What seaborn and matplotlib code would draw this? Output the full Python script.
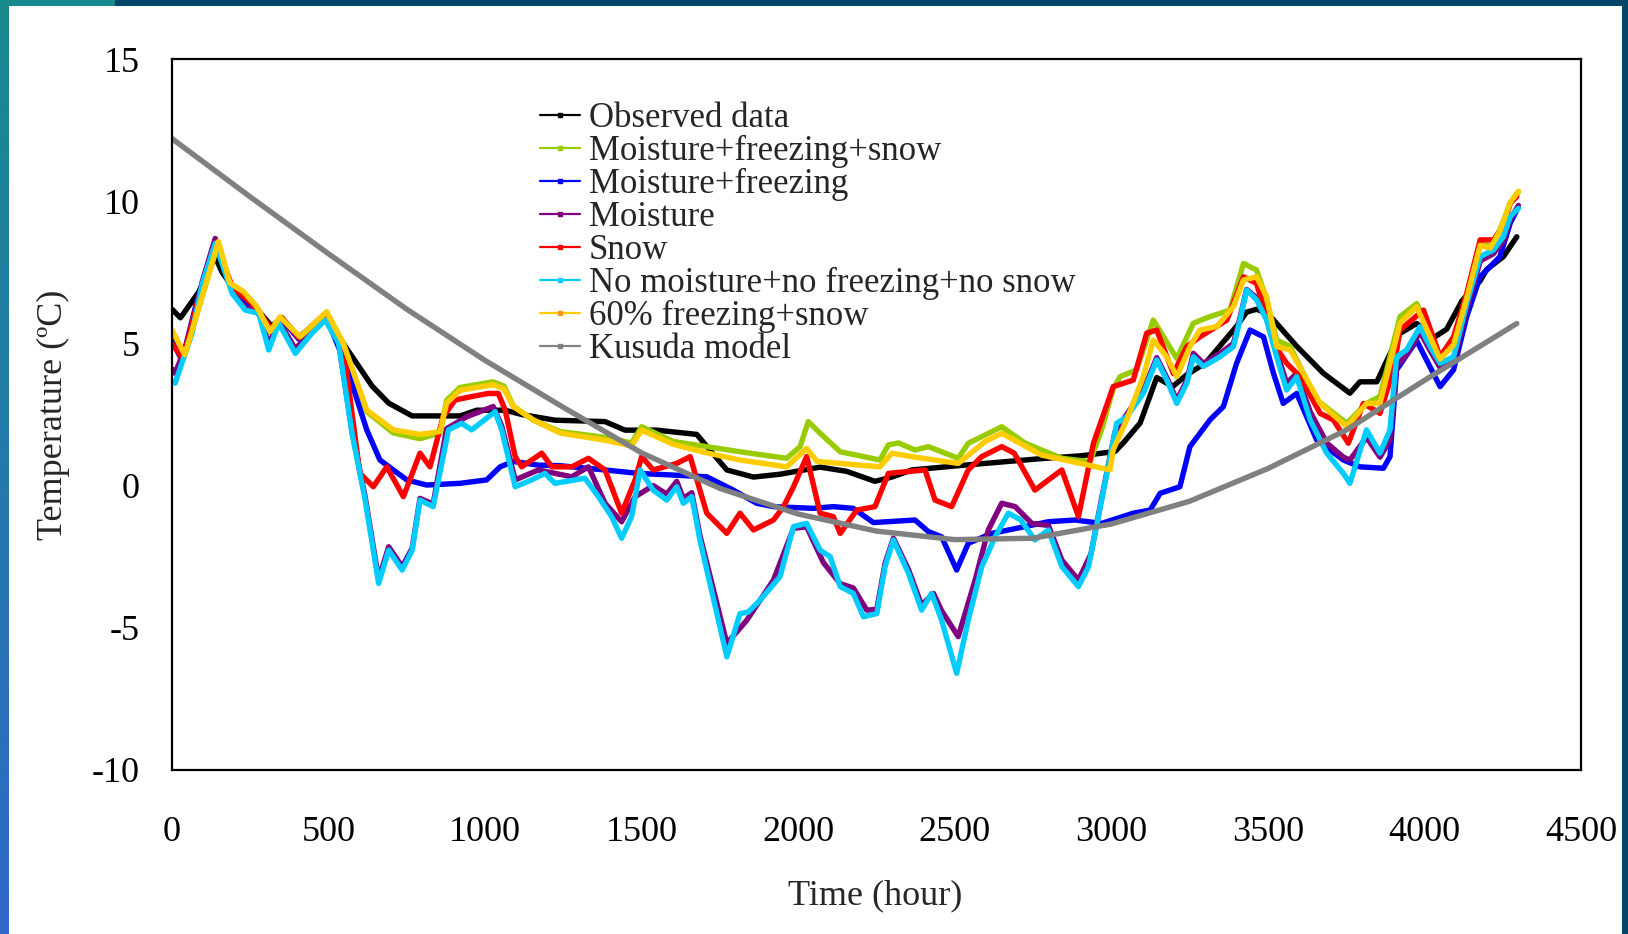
import numpy as np
import pandas as pd
import matplotlib
matplotlib.use("Agg")
import matplotlib.pyplot as plt
from matplotlib.patches import Rectangle
from matplotlib.lines import Line2D
import seaborn as sns

# ---- series (time in hours, temperature in degC) ----
t_obs = [0, 27, 85, 138, 160, 192, 255, 319, 351, 405, 490, 553, 639, 692, 767, 920, 973, 1064, 1117,
         1223, 1383, 1447, 1548, 1676, 1718, 1772, 1857, 1942, 2070, 2155, 2245, 2299, 2363, 2511, 2671,
         2778, 2905, 3012, 3038, 3092, 3145, 3177, 3198, 3241, 3300, 3400, 3432, 3464, 3500, 3592, 3677,
         3762, 3794, 3848, 3880, 3922, 3975, 4029, 4071, 4120, 4178, 4199, 4252, 4295]
v_obs = [6.2, 5.9, 6.8, 8.05, 7.5, 7.0, 6.4, 5.6, 5.9, 5.2, 6.0, 4.9, 3.5, 2.9, 2.45, 2.45, 2.65, 2.65, 2.5,
         2.3, 2.25, 1.95, 1.95, 1.8, 1.25, 0.55, 0.3, 0.4, 0.65, 0.5, 0.15, 0.3, 0.55, 0.7, 0.85,
         0.95, 1.05, 1.2, 1.5, 2.2, 3.8, 3.6, 3.5, 3.9, 4.3, 5.6, 6.1, 6.2, 6.05, 4.9, 3.95,
         3.25, 3.65, 3.65, 4.4, 5.35, 5.7, 5.2, 5.5, 6.5, 7.2, 7.6, 8.05, 8.75]

t_mfs = [0, 41, 148, 185, 228, 270, 313, 345, 409, 494, 547, 622, 707, 792, 856, 877, 920, 1026, 1060, 1090,
         1154, 1239, 1380, 1468, 1500, 1601, 1708, 1814, 1963, 2006, 2032, 2070, 2134, 2261, 2288, 2320,
         2373, 2416, 2511, 2543, 2597, 2650, 2725, 2842, 2932, 2970, 3006, 3028, 3081, 3134, 3209, 3262,
         3315, 3379, 3422, 3464, 3496, 3528, 3571, 3656, 3752, 3815, 3858, 3922, 3975, 4050, 4093, 4135,
         4178, 4210, 4241, 4274, 4300]
v_mfs = [5.4, 4.6, 8.55, 7.1, 6.8, 6.3, 5.4, 5.9, 5.2, 6.1, 5.0, 2.6, 1.85, 1.65, 1.85, 3.0, 3.45, 3.65, 3.5, 2.8,
         2.3, 1.9, 1.7, 1.5, 2.07, 1.55, 1.37, 1.19, 0.96, 1.37, 2.25, 1.84, 1.19, 0.9, 1.43, 1.5,
         1.25, 1.37, 0.96, 1.49, 1.78, 2.07, 1.49, 0.96, 0.84, 2.0, 3.4, 3.83, 4.07, 5.82, 4.47, 5.71,
         5.94, 6.17, 7.81, 7.58, 6.53, 5.12, 4.89, 3.01, 2.19, 2.89, 3.13, 5.94, 6.4, 4.53, 5.0, 6.64,
         8.52, 8.4, 8.99, 9.93, 10.33]

t_mf = [0, 32, 80, 140, 192, 255, 319, 351, 405, 490, 557, 622, 664, 750, 813, 920, 1005, 1048, 1090, 1170,
        1239, 1383, 1489, 1601, 1708, 1793, 1867, 1921, 2048, 2112, 2176, 2240, 2373, 2416, 2458, 2506,
        2543, 2618, 2725, 2799, 2884, 2969, 3070, 3124, 3156, 3219, 3251, 3315, 3358, 3400, 3443, 3486,
        3518, 3549, 3592, 3656, 3741, 3794, 3869, 3890, 3911, 3975, 4050, 4093, 4135, 4178, 4210, 4241,
        4274, 4295]
v_mf = [5.1, 4.4, 6.5, 8.5, 6.9, 6.3, 5.5, 5.85, 5.15, 6.0, 4.19, 1.96, 0.9, 0.2, 0.02, 0.08, 0.2, 0.66, 0.85, 0.72,
        0.7, 0.55, 0.43, 0.37, 0.31, -0.16, -0.62, -0.74, -0.8, -0.74, -0.8, -1.3, -1.21, -1.62, -1.8, -2.97,
        -2.03, -1.68, -1.44, -1.27, -1.21, -1.33, -0.97, -0.86, -0.27, -0.04, 1.37, 2.31, 2.78, 4.3, 5.47, 5.23,
        3.94, 2.89, 3.24, 1.6, 0.9, 0.66, 0.61, 1.02, 4.07, 5.1, 3.48, 4.07, 5.94, 7.35, 7.7, 8.05,
        9.23, 9.69]

t_m = [0, 10, 64, 96, 138, 192, 234, 277, 309, 341, 394, 447, 490, 532, 575, 617, 660, 692, 735, 767,
       792, 834, 877, 941, 1026, 1053, 1096, 1170, 1277, 1330, 1383, 1436, 1479, 1537, 1580, 1612, 1633,
       1660, 1686, 1772, 1836, 1921, 1985, 2027, 2080, 2134, 2176, 2219, 2251, 2277, 2304, 2352, 2394,
       2432, 2458, 2511, 2565, 2607, 2650, 2693, 2746, 2799, 2842, 2895, 2935, 2969, 3012, 3049, 3102,
       3145, 3177, 3209, 3241, 3262, 3294, 3347, 3390, 3411, 3432, 3464, 3496, 3528, 3560, 3592, 3635,
       3688, 3741, 3762, 3815, 3858, 3890, 3911, 3943, 3986, 4018, 4050, 4093, 4135, 4178, 4220, 4252,
       4274, 4300]
v_m = [4.1, 3.95, 5.45, 7.15, 8.69, 6.85, 6.25, 6.15, 4.95, 5.8, 4.8, 5.45, 5.9, 5.05, 1.9, -0.4, -3.3, -2.15, -2.85, -2.2,
       -0.45, -0.65, 2.0, 2.42, 2.78, 2.1, 0.2, 0.55, 0.31, 0.66, -0.62, -1.27, -0.39, 0.0, -0.3, 0.15, -0.45,
       -0.25, -1.75, -5.55, -4.73, -3.32, -1.5, -1.45, -2.7, -3.45, -3.6, -4.38, -4.35, -2.75, -1.85, -2.95, -4.2,
       -3.79, -4.4, -5.31, -3.32, -1.56, -0.62, -0.74, -1.33, -1.4, -2.62, -3.32, -2.4, -0.45, 1.9, 2.5, 3.35,
       4.5, 3.8, 3.0, 3.7, 4.65, 4.3, 4.65, 5.0, 5.9, 6.9, 6.6, 5.9, 4.7, 3.6, 3.95, 2.6,
       1.5, 1.0, 0.9, 1.7, 1.0, 1.6, 4.2, 4.6, 5.4, 4.75, 4.15, 4.35, 6.2, 7.9, 8.15, 8.6,
       9.35, 9.85]

t_s = [0, 35, 80, 140, 192, 255, 319, 351, 405, 490, 547, 600, 643, 686, 739, 792, 824, 866, 904, 957,
       1010, 1042, 1064, 1096, 1117, 1149, 1181, 1213, 1277, 1330, 1383, 1436, 1479, 1500, 1537, 1612, 1655,
       1686, 1708, 1772, 1814, 1857, 1921, 1953, 1985, 2027, 2070, 2112, 2134, 2187, 2245, 2288, 2405,
       2437, 2490, 2543, 2586, 2650, 2690, 2756, 2799, 2842, 2895, 2943, 3006, 3070, 3113, 3145, 3198,
       3241, 3283, 3369, 3422, 3464, 3518, 3560, 3603, 3667, 3709, 3757, 3805, 3858, 3901, 3922, 3997,
       4050, 4093, 4135, 4178, 4220, 4252, 4274, 4295]
v_s = [5.0, 4.45, 6.4, 8.55, 7.0, 6.4, 5.5, 5.9, 5.2, 6.05, 4.9, 0.43, -0.04, 0.66, -0.39, 1.14, 0.66, 2.42, 3.01, 3.13,
       3.24, 3.24, 2.66, 1.02, 0.66, 0.9, 1.14, 0.66, 0.66, 0.96, 0.55, -0.97, 0.2, 1.02, 0.55, 0.78, 1.02,
       -0.16, -0.97, -1.68, -0.97, -1.56, -1.21, -0.74, -0.04, 1.02, -0.97, -1.09, -1.68, -0.86, -0.74, 0.43, 0.55,
       -0.51, -0.74, 0.55, 1.02, 1.37, 1.14, -0.16, 0.2, 0.55, -1.09, 1.49, 3.48, 3.71, 5.36, 5.47, 3.94,
       4.89, 5.23, 5.82, 7.34, 7.11, 5.0, 4.3, 3.83, 2.54, 2.31, 1.49, 2.89, 2.54, 4.07, 5.47, 6.17,
       4.53, 5.23, 6.76, 8.64, 8.64, 9.1, 9.93, 10.16]

t_nm = [0, 10, 64, 96, 138, 192, 234, 277, 309, 341, 394, 447, 490, 532, 575, 617, 660, 692, 735, 767,
        792, 834, 883, 925, 957, 1032, 1053, 1096, 1149, 1191, 1223, 1319, 1362, 1404, 1436, 1468, 1495,
        1537, 1580, 1612, 1633, 1660, 1686, 1772, 1814, 1840, 1878, 1942, 1985, 2027, 2070, 2102, 2134,
        2176, 2208, 2251, 2277, 2304, 2352, 2394, 2426, 2458, 2506, 2543, 2586, 2629, 2671, 2710, 2756,
        2799, 2842, 2895, 2927, 2969, 3017, 3049, 3102, 3145, 3177, 3209, 3241, 3262, 3294, 3347, 3390,
        3411, 3432, 3464, 3496, 3528, 3560, 3592, 3635, 3688, 3741, 3762, 3815, 3858, 3890, 3911, 3943,
        3986, 4018, 4050, 4093, 4135, 4178, 4220, 4252, 4274, 4300]
v_nm = [3.66, 3.6, 5.36, 7.07, 8.52, 6.76, 6.17, 6.06, 4.77, 5.71, 4.65, 5.36, 5.82, 5.0, 1.84, -0.51, -3.44, -2.27, -2.97, -2.27,
        -0.51, -0.74, 1.96, 2.19, 1.96, 2.6, 1.96, -0.04, 0.2, 0.43, 0.08, 0.26, -0.39, -1.09, -1.85, -1.09, 0.55,
        -0.16, -0.51, -0.04, -0.62, -0.39, -1.91, -6.02, -4.5, -4.45, -4.03, -3.2, -1.44, -1.33, -2.27, -2.5, -3.55,
        -3.79, -4.61, -4.5, -2.86, -1.91, -3.08, -4.38, -3.79, -4.73, -6.6, -4.73, -2.86, -1.8, -0.97, -1.2, -1.91,
        -1.56, -2.85, -3.55, -2.85, -0.51, 2.19, 2.42, 3.24, 4.42, 3.71, 2.89, 3.6, 4.53, 4.19, 4.53, 4.89,
        5.82, 6.88, 6.53, 5.82, 4.53, 3.36, 3.83, 2.31, 1.14, 0.43, 0.08, 1.96, 1.14, 1.96, 4.53, 4.77,
        5.59, 4.89, 4.3, 4.53, 6.4, 8.05, 8.28, 8.75, 9.46, 9.75]

t_60 = [0, 41, 148, 185, 228, 270, 313, 345, 409, 494, 547, 622, 707, 792, 856, 877, 920, 1026, 1060, 1090,
        1154, 1239, 1380, 1468, 1500, 1601, 1708, 1814, 1963, 2027, 2060, 2261, 2299, 2373, 2511, 2597,
        2650, 2778, 2927, 2996, 3006, 3049, 3102, 3134, 3177, 3209, 3251, 3283, 3337, 3390, 3422, 3464,
        3496, 3528, 3571, 3667, 3752, 3815, 3858, 3922, 3975, 4050, 4093, 4135, 4178, 4210, 4241, 4274,
        4300]
v_60 = [5.47, 4.6, 8.58, 7.12, 6.82, 6.3, 5.42, 5.93, 5.23, 6.11, 5.0, 2.66, 1.96, 1.8, 1.9, 2.9, 3.35, 3.55, 3.4, 2.78,
        2.31, 1.85, 1.6, 1.4, 1.95, 1.45, 1.15, 0.9, 0.66, 1.31, 0.85, 0.66, 1.14, 1.0, 0.78, 1.55,
        1.84, 1.07, 0.72, 0.55, 1.26, 2.31, 3.83, 5.12, 4.53, 3.83, 4.89, 5.47, 5.59, 6.3, 7.23, 7.34,
        6.64, 4.89, 4.77, 2.89, 2.07, 2.89, 2.89, 5.71, 6.29, 4.45, 4.95, 6.6, 8.45, 8.35, 8.95, 9.95,
        10.35]

t_kus = [0, 250, 500, 750, 1000, 1250, 1500, 1750, 2000, 2250, 2500, 2750, 3000, 3250, 3500, 3750, 4000, 4295]
v_kus = [12.2, 10.15, 8.15, 6.2, 4.4, 2.75, 1.15, -0.1, -1.0, -1.6, -1.9, -1.85, -1.35, -0.55, 0.6, 1.95, 3.7, 5.7]

labels = ["Observed data", "Moisture+freezing+snow", "Moisture+freezing", "Moisture", "Snow",
          "No moisture+no freezing+no snow", "60% freezing+snow", "Kusuda model"]
colors = ["#000000", "#99cc00", "#0000ff", "#800080", "#ff0000", "#00ccff", "#ffcc00", "#808080"]
marker_colors = ["#000000", "#99cc00", "#0000ff", "#800080", "#ff0000", "#00ccff", "#ff9900", "#808080"]
series = [(t_obs, v_obs), (t_mfs, v_mfs), (t_mf, v_mf), (t_m, v_m), (t_s, v_s),
          (t_nm, v_nm), (t_60, v_60), (t_kus, v_kus)]

frames = [pd.DataFrame({"Time": t, "Temp": v, "Series": name})
          for name, (t, v) in zip(labels, series)]
df = pd.concat(frames, ignore_index=True)

sns.set_style("white")
plt.rcParams["font.family"] = ["Liberation Serif", "DejaVu Serif"]

fig = plt.figure(figsize=(16.28, 9.34), dpi=100)
fig.patch.set_facecolor("white")

# slide-style frame around the figure
W, H = 1628.0, 934.0
fig.patches.append(Rectangle((0, 1 - 6 / H), 1, 6 / H, transform=fig.transFigure,
                             facecolor="#00466b", edgecolor="none", zorder=0))
fig.patches.append(Rectangle((0, 1 - 6 / H), 115 / W, 6 / H, transform=fig.transFigure,
                             facecolor="#178a8d", edgecolor="none", zorder=0))
fig.patches.append(Rectangle((1 - 6 / W, 0), 6 / W, 1, transform=fig.transFigure,
                             facecolor="#00466b", edgecolor="none", zorder=0))
band = fig.add_axes([0, 0, 9 / W, 1])
grad = np.linspace(0, 1, 256)[:, None]
top_rgb = np.array([0x17, 0x8a, 0x8d]) / 255
bot_rgb = np.array([0x30, 0x68, 0xc8]) / 255
img = top_rgb[None, None, :] * (1 - grad[:, :, None]) + bot_rgb[None, None, :] * grad[:, :, None]
band.imshow(img, aspect="auto", extent=[0, 1, 0, 1])
band.set_axis_off()

ax = fig.add_axes([172 / W, 1 - 770 / H, 1409 / W, 711 / H])
sns.lineplot(data=df, x="Time", y="Temp", hue="Series", hue_order=labels,
             palette=dict(zip(labels, colors)), units="Series", estimator=None, sort=False,
             linewidth=3.9, legend=False, ax=ax)
for ln in ax.get_lines():
    ln.set_solid_joinstyle("round")
    ln.set_solid_capstyle("round")

ax.set_xlim(0, 4500)
ax.set_ylim(-10, 15)
ax.set_xticks(np.arange(0, 4501, 500))
ax.set_yticks(np.arange(-10, 16, 5))
ax.set_xticklabels([str(v) for v in range(0, 4501, 500)])
ax.set_yticklabels([str(v) for v in range(-10, 16, 5)])
ax.tick_params(axis="x", direction="in", length=8.4, width=1.0, pad=33, labelsize=26, colors="black")
ax.tick_params(axis="y", direction="in", length=8.4, width=1.0, pad=23, labelsize=26, colors="black")
for sp in ax.spines.values():
    sp.set_visible(True)
    sp.set_color("black")
    sp.set_linewidth(1.6)

ax.set_xlabel("Time (hour)", fontsize=26)
ax.set_ylabel("Temperature (\u00baC)", fontsize=26)
ax.xaxis.set_label_coords(0.499, -0.154)
ax.yaxis.set_label_coords(-0.0726, 0.5)

handles = [Line2D([0], [0], color=c, lw=1.6, marker="s", markersize=3.5,
                  markerfacecolor=mc, markeredgecolor=mc)
           for c, mc in zip(colors, marker_colors)]
ax.legend(handles, labels, loc="upper left", bbox_to_anchor=(0.261, 0.94), frameon=False,
          fontsize=25, handlelength=1.16, handletextpad=0.25, labelspacing=0.0,
          borderpad=0, borderaxespad=0)

fig.savefig("out.png", dpi=100, facecolor="white")
